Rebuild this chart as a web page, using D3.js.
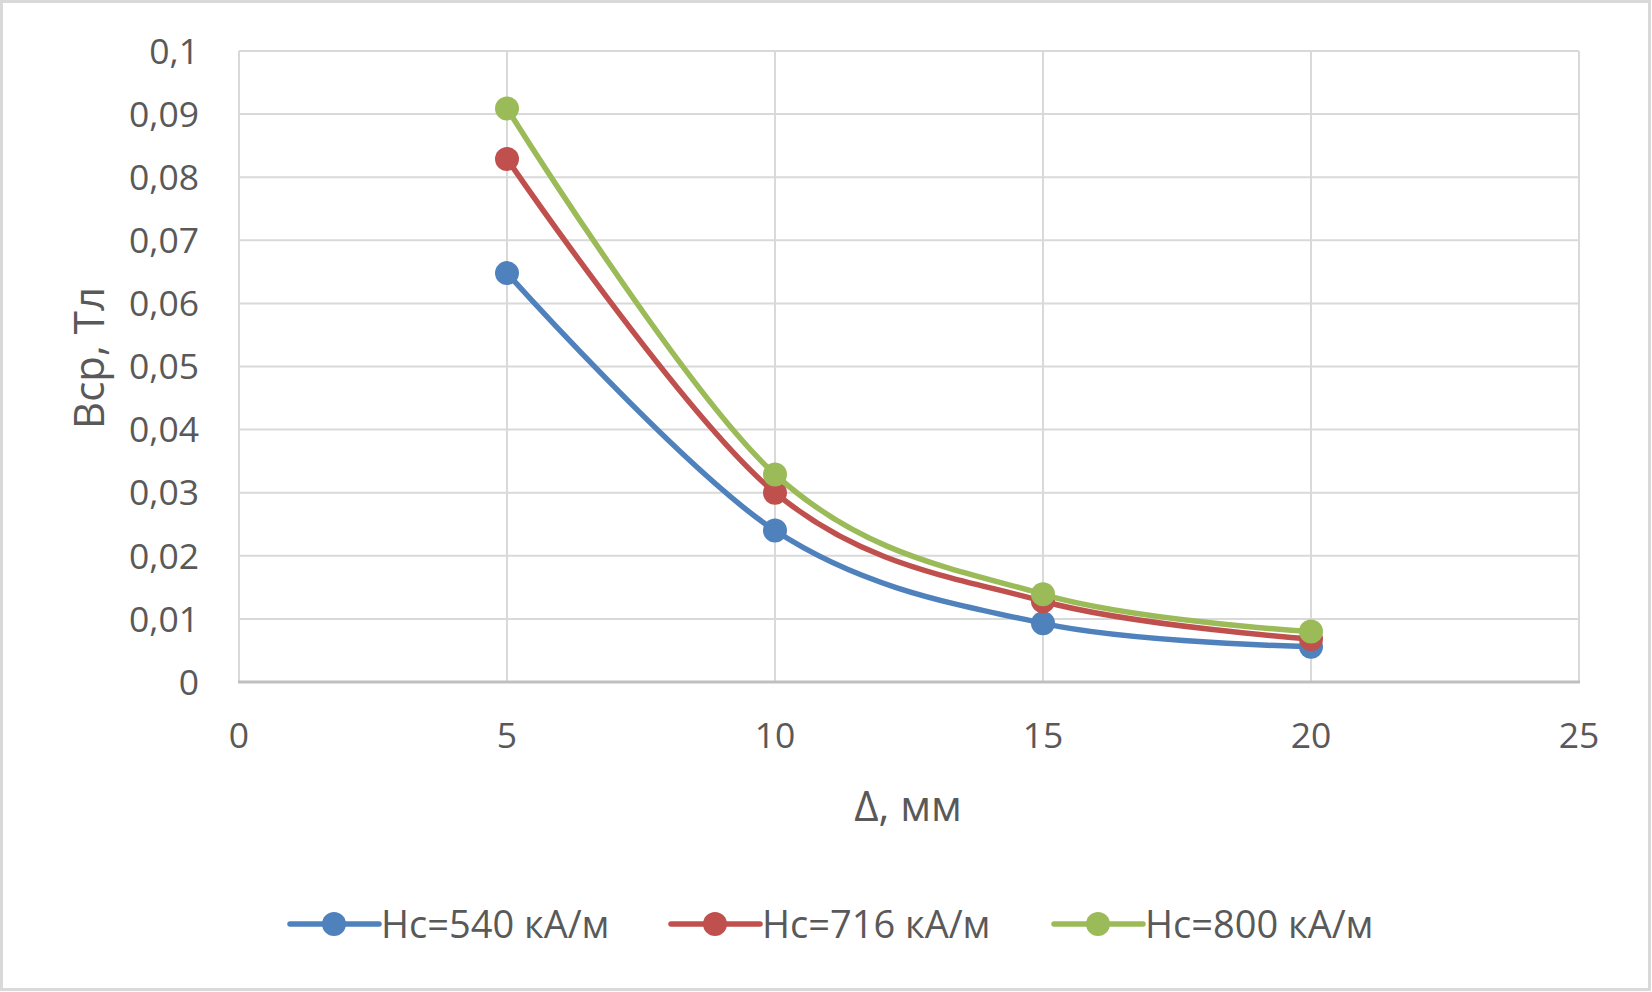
<!DOCTYPE html>
<html>
<head>
<meta charset="utf-8">
<script src="https://cdn.jsdelivr.net/npm/d3@7"></script>
<style>
  body { margin: 0; background: #fff; }
  text { font-family: "Open Sans", sans-serif; fill: #595959; }
</style>
</head>
<body>
<script>
var width = 1652,
    height = 992;

// data
var gaps = [5, 10, 15, 20];                      // Δ, мм
var seriesNames = ["Hc=540 кА/м", "Hc=716 кА/м", "Hc=800 кА/м"];
var b540 = [0.0648, 0.0240, 0.0093, 0.0056];
var b716 = [0.0829, 0.0300, 0.0128, 0.0068];
var b800 = [0.0909, 0.0329, 0.0139, 0.0080];
var colors = ["#4f81bd", "#c0504d", "#9bbb59"];
var xTicks = [0, 5, 10, 15, 20, 25];
var yTicks = [0, 0.01, 0.02, 0.03, 0.04, 0.05, 0.06, 0.07, 0.08, 0.09, 0.1];

var series = [b540, b716, b800].map(function(vals, i) {
  return { name: seriesNames[i], color: colors[i],
           points: vals.map(function(v, j) { return [gaps[j], v]; }) };
});

var margin = { left: 239, right: 1579, top: 51, bottom: 682 };

var x = d3.scaleLinear().domain([0, 25]).range([margin.left, margin.right]);
var y = d3.scaleLinear().domain([0, 0.1]).range([margin.bottom, margin.top]);

var svg = d3.select("body").append("svg")
  .attr("width", width)
  .attr("height", height);

// outer frame
svg.append("rect")
  .attr("x", 1.5).attr("y", 1.5)
  .attr("width", width - 4).attr("height", height - 4)
  .attr("fill", "#fff")
  .attr("stroke", "#d9d9d9")
  .attr("stroke-width", 3);

// grid
svg.append("g").selectAll("line.h")
  .data(yTicks.slice(1))
  .enter().append("line")
  .attr("x1", margin.left).attr("x2", margin.right)
  .attr("y1", function(d) { return y(d); })
  .attr("y2", function(d) { return y(d); })
  .attr("stroke", "#d9d9d9").attr("stroke-width", 2);

svg.append("g").selectAll("line.v")
  .data(xTicks)
  .enter().append("line")
  .attr("y1", margin.top).attr("y2", margin.bottom)
  .attr("x1", function(d) { return x(d); })
  .attr("x2", function(d) { return x(d); })
  .attr("stroke", "#d9d9d9").attr("stroke-width", 2);

// bottom axis line
svg.append("line")
  .attr("x1", margin.left - 1).attr("x2", margin.right + 1)
  .attr("y1", y(0)).attr("y2", y(0))
  .attr("stroke", "#bfbfbf").attr("stroke-width", 3);

var fmt = function(d) { return String(d).replace(".", ","); };

// y tick labels
svg.append("g").selectAll("text")
  .data(yTicks)
  .enter().append("text")
  .attr("x", 199)
  .attr("y", function(d) { return y(d); })
  .attr("dy", "0.36em")
  .attr("text-anchor", "end")
  .style("font-size", "35.5px")
  .text(fmt);

// x tick labels
svg.append("g").selectAll("text")
  .data(xTicks)
  .enter().append("text")
  .attr("x", function(d) { return x(d); })
  .attr("y", 748)
  .attr("text-anchor", "middle")
  .style("font-size", "35.5px")
  .text(function(d) { return d; });

// axis titles
svg.append("text")
  .attr("x", 908).attr("y", 821)
  .attr("text-anchor", "middle")
  .style("font-size", "42px")
  .text("Δ, мм");

svg.append("text")
  .attr("transform", "translate(104,358) rotate(-90)")
  .attr("text-anchor", "middle")
  .style("font-size", "42px")
  .text("Bcp, Тл");

// lines
var line = d3.line()
  .x(function(d) { return x(d[0]); })
  .y(function(d) { return y(d[1]); })
  .curve(d3.curveCardinal.tension(0));

var g = svg.selectAll("g.series")
  .data(series)
  .enter().append("g")
  .attr("class", "series");

g.append("path")
  .attr("d", function(d) { return line(d.points); })
  .attr("fill", "none")
  .attr("stroke", function(d) { return d.color; })
  .attr("stroke-width", 5.5)
  .attr("stroke-linecap", "round");

g.selectAll("circle")
  .data(function(d) { return d.points.map(function(p) { return { p: p, c: d.color }; }); })
  .enter().append("circle")
  .attr("cx", function(d) { return x(d.p[0]); })
  .attr("cy", function(d) { return y(d.p[1]); })
  .attr("r", 12)
  .attr("fill", function(d) { return d.c; });

// legend
var legendX = [290, 671, 1054];
var leg = svg.selectAll("g.legend")
  .data(series)
  .enter().append("g")
  .attr("class", "legend")
  .attr("transform", function(d, i) { return "translate(" + legendX[i] + ",924)"; });

leg.append("line")
  .attr("x1", 0).attr("x2", 89)
  .attr("stroke", function(d) { return d.color; })
  .attr("stroke-width", 5.5)
  .attr("stroke-linecap", "round");

leg.append("circle")
  .attr("cx", 44).attr("r", 12)
  .attr("fill", function(d) { return d.color; });

leg.append("text")
  .attr("x", 91)
  .attr("dy", "0.36em")
  .style("font-size", "38px")
  .text(function(d) { return d.name; });
</script>
</body>
</html>
